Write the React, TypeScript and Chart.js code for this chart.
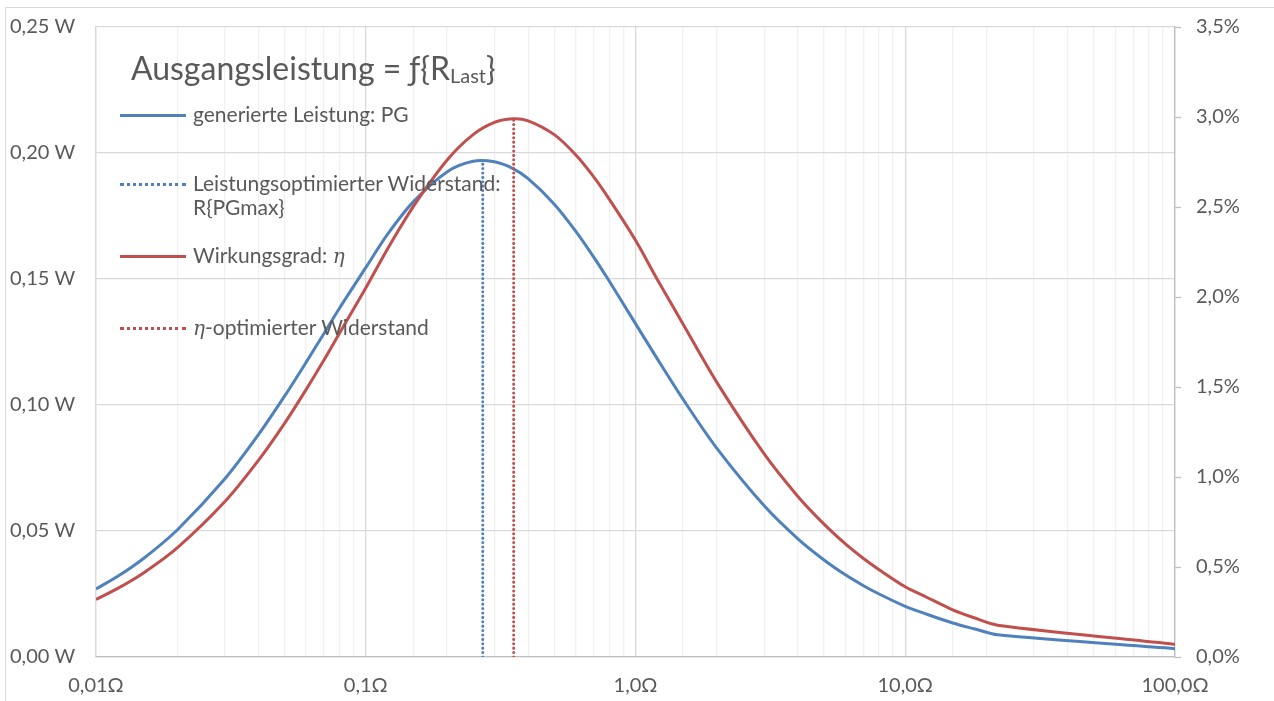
import React, { useEffect, useRef } from "react";
import { Chart, registerables } from "chart.js";

Chart.register(...registerables);

// Load resistance R_Last in Ohm (x values)
const rOhm = [0.01, 0.012, 0.015, 0.02, 0.03, 0.04, 0.05, 0.06, 0.07, 0.08, 0.1, 0.12, 0.15, 0.2, 0.25, 0.3, 0.35, 0.4, 0.5, 0.6, 0.7, 0.8, 1, 1.2, 1.5, 2, 3, 4, 5, 6, 7, 8, 10, 12, 15, 18, 22, 100];
// generated power PG in W
const pgWatt = [0.027, 0.0319, 0.0391, 0.0504, 0.0706, 0.0882, 0.1035, 0.1168, 0.1284, 0.1385, 0.1545, 0.1675, 0.1806, 0.1925, 0.1967, 0.1965, 0.1939, 0.1898, 0.1797, 0.169, 0.1587, 0.1491, 0.1323, 0.1186, 0.1023, 0.0829, 0.06, 0.0469, 0.0385, 0.0326, 0.0283, 0.025, 0.0201, 0.017, 0.0135, 0.0112, 0.0088, 0.0033];
// efficiency eta in %
const etaPercent = [0.32, 0.38, 0.467, 0.606, 0.862, 1.092, 1.298, 1.484, 1.65, 1.8, 2.05, 2.263, 2.502, 2.76, 2.902, 2.97, 2.99, 2.979, 2.902, 2.79, 2.667, 2.542, 2.315, 2.102, 1.85, 1.527, 1.128, 0.892, 0.738, 0.628, 0.547, 0.485, 0.39, 0.332, 0.262, 0.218, 0.177, 0.07];

// optimum resistances
const rPgMax = [0.2715, 0.2715];
const pgMaxLine = [0, 0.197];
const rEtaMax = [0.3535, 0.3535];
const etaMaxLine = [0, 2.99];

// tick labels
const xDecades = [0.01, 0.1, 1, 10, 100];
const xTickLabels = ["0,01Ω", "0,1Ω", "1,0Ω", "10,0Ω", "100,0Ω"];
const yTicks = [0, 0.05, 0.1, 0.15, 0.2, 0.25];
const yTickLabels = ["0,00 W", "0,05 W", "0,10 W", "0,15 W", "0,20 W", "0,25 W"];
const y1Ticks = [0, 0.5, 1, 1.5, 2, 2.5, 3, 3.5];
const y1TickLabels = ["0,0%", "0,5%", "1,0%", "1,5%", "2,0%", "2,5%", "3,0%", "3,5%"];

const legendTitle = "Ausgangsleistung = ƒ{R";
const legendTitleSub = "Last";
const legendItems = [
  "generierte Leistung: PG",
  "Leistungsoptimierter Widerstand:",
  "R{PGmax}",
  "Wirkungsgrad: ",
  "-optimierter Widerstand",
];

const BLUE = "#4F81BD";
const RED = "#C0504D";
const TEXT = "#595959";
const FONT = "Lato, 'Open Sans', sans-serif";

function zip(xs: number[], ys: number[]) {
  return xs.map((x, i) => ({ x, y: ys[i] }));
}

function findLabel(v: number, vals: number[], labels: string[]) {
  for (let i = 0; i < vals.length; i++) {
    if (Math.abs(vals[i] - v) < 1e-9 * Math.max(1, Math.abs(v)) + 1e-12) return labels[i];
  }
  return "";
}

function isDecade(v: number) {
  const l = Math.log10(v);
  return Math.abs(l - Math.round(l)) < 1e-6;
}

export default function App() {
  const canvasRef = useRef<HTMLCanvasElement | null>(null);

  useEffect(() => {
    const canvas = canvasRef.current;
    if (!canvas) return;
    const chart = new Chart(canvas, {
      type: "line",
      data: {
        datasets: [
          {
            label: "generierte Leistung: PG",
            data: zip(rOhm, pgWatt),
            borderColor: BLUE,
            borderWidth: 3,
            pointRadius: 0,
            tension: 0.3,
            yAxisID: "y",
            order: 3,
          },
          {
            label: "η",
            data: zip(rOhm, etaPercent),
            borderColor: RED,
            borderWidth: 3,
            pointRadius: 0,
            tension: 0.3,
            yAxisID: "y1",
            order: 2,
          },
          {
            label: "R{PGmax}",
            data: zip(rPgMax, pgMaxLine),
            borderColor: BLUE,
            borderWidth: 3,
            borderDash: [0.1, 4.3],
            borderCapStyle: "round",
            pointRadius: 0,
            yAxisID: "y",
            order: 1,
          },
          {
            label: "η-opt",
            data: zip(rEtaMax, etaMaxLine),
            borderColor: RED,
            borderWidth: 3,
            borderDash: [0.1, 4.3],
            borderCapStyle: "round",
            pointRadius: 0,
            yAxisID: "y1",
            order: 0,
          },
        ],
      },
      options: {
        animation: false,
        responsive: false,
        maintainAspectRatio: false,
        layout: { padding: { left: 10, top: 21, right: 0, bottom: 0 } },
        plugins: { legend: { display: false }, tooltip: { enabled: false } },
        scales: {
          x: {
            type: "logarithmic",
            min: 0.01,
            max: 100,
            afterFit: (s: any) => {
              s.height = 44;
            },
            grid: {
              color: (ctx: any) => (ctx.tick && isDecade(ctx.tick.value) ? "#d9d9d9" : "#f0f0f0"),
              lineWidth: 1.3,
              drawTicks: false,
            },
            border: { color: "#bfbfbf", width: 1.3 },
            ticks: {
              autoSkip: false,
              maxRotation: 0,
              padding: 17,
              color: TEXT,
              font: { family: FONT, size: 20 },
              callback: (v: any) => (isDecade(Number(v)) ? findLabel(Number(v), xDecades, xTickLabels) : ""),
            },
          },
          y: {
            type: "linear",
            position: "left",
            min: 0,
            max: 0.25,
            afterFit: (s: any) => {
              s.width = 86;
            },
            afterBuildTicks: (s: any) => {
              s.ticks = yTicks.map((v) => ({ value: v }));
            },
            grid: { color: "#d9d9d9", lineWidth: 1.3, drawTicks: false },
            border: { color: "#d9d9d9", width: 1.3 },
            ticks: {
              crossAlign: "far",
              color: TEXT,
              font: { family: FONT, size: 20 },
              callback: (v: any) => findLabel(Number(v), yTicks, yTickLabels),
            },
          },
          y1: {
            type: "linear",
            position: "right",
            min: 0,
            max: 3.5,
            afterFit: (s: any) => {
              s.width = 99;
            },
            afterBuildTicks: (s: any) => {
              s.ticks = y1Ticks.map((v) => ({ value: v }));
            },
            grid: { drawOnChartArea: false, drawTicks: true, tickLength: 6, tickColor: "#bfbfbf", tickWidth: 1.3 },
            border: { color: "#bfbfbf", width: 1.3 },
            ticks: {
              padding: 15,
              color: TEXT,
              font: { family: FONT, size: 20 },
              callback: (v: any) => findLabel(Number(v), y1Ticks, y1TickLabels),
            },
          },
        },
      },
    });
    return () => chart.destroy();
  }, []);

  const textStyle: React.CSSProperties = {
    position: "absolute",
    fontFamily: FONT,
    fontSize: 21,
    color: TEXT,
    whiteSpace: "nowrap",
    lineHeight: "24px",
  };
  const lineSample = (top: number, color: string, dotted: boolean): React.CSSProperties =>
    dotted
      ? { position: "absolute", left: 120, top: top - 1.5, width: 66, height: 0, borderTop: `3px dotted ${color}` }
      : { position: "absolute", left: 120, top: top - 1.5, width: 66, height: 3, background: color };
  const etaStyle: React.CSSProperties = { fontFamily: "'DejaVu Serif', 'Liberation Serif', serif", fontStyle: "italic", fontSize: 20 };

  return (
    <div style={{ position: "fixed", left: 0, top: 0, width: 1274, height: 701, background: "#fff", overflow: "hidden" }}>
      <div style={{ position: "absolute", left: 5, top: 7, width: 1290, height: 720, border: "1.5px solid #d9d9d9", boxSizing: "border-box" }} />
      <canvas ref={canvasRef} width={1274} height={701} style={{ position: "absolute", left: 0, top: 0, width: 1274, height: 701 }} />
      <div style={{ ...textStyle, left: 131, top: 49, fontSize: 32, lineHeight: "38px" }}>
        {legendTitle}
        <span style={{ fontSize: 20, position: "relative", top: 3 }}>{legendTitleSub}</span>
        {"}"}
      </div>
      <div style={lineSample(115, BLUE, false)} />
      <div style={{ ...textStyle, left: 193, top: 102 }}>{legendItems[0]}</div>
      <div style={lineSample(184, BLUE, true)} />
      <div style={{ ...textStyle, left: 193, top: 171 }}>{legendItems[1]}</div>
      <div style={{ ...textStyle, left: 193, top: 195 }}>{legendItems[2]}</div>
      <div style={lineSample(256, RED, false)} />
      <div style={{ ...textStyle, left: 193, top: 243 }}>
        {legendItems[3]}
        <span style={etaStyle}>η</span>
      </div>
      <div style={lineSample(328, RED, true)} />
      <div style={{ ...textStyle, left: 193, top: 315 }}>
        <span style={etaStyle}>η</span>
        {legendItems[4]}
      </div>
    </div>
  );
}
